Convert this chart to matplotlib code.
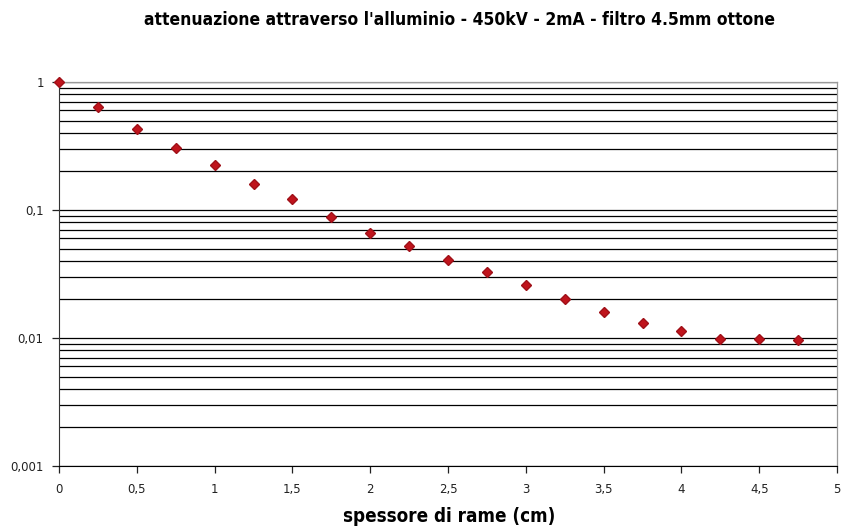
import matplotlib
matplotlib.use("Agg")
import matplotlib.pyplot as plt
from matplotlib.ticker import FuncFormatter, LogLocator, NullFormatter, MultipleLocator

thickness = [0, 0.25, 0.5, 0.75, 1.0, 1.25, 1.5, 1.75, 2.0, 2.25, 2.5, 2.75,
             3.0, 3.25, 3.5, 3.75, 4.0, 4.25, 4.5, 4.75]
attenuation = [1.0, 0.64, 0.43, 0.305, 0.225, 0.16, 0.122, 0.088, 0.066, 0.052,
               0.041, 0.0328, 0.026, 0.0202, 0.016, 0.0131, 0.01135, 0.0098,
               0.0098, 0.0096]

title = "attenuazione attraverso l'alluminio - 450kV - 2mA - filtro 4.5mm ottone"
xlabel = "spessore di rame (cm)"

fig = plt.figure(figsize=(8.44, 5.29), dpi=100)
ax = fig.add_axes([59/844, 1-466/529, (837-59)/844, (466-82)/529])

ax.set_yscale("log")
ax.set_ylim(0.001, 1)
ax.set_xlim(0, 5)

ax.yaxis.set_major_locator(LogLocator(base=10, numticks=10))
ax.yaxis.set_minor_locator(LogLocator(base=10, subs=range(2, 10), numticks=20))
ax.yaxis.set_minor_formatter(NullFormatter())
ax.yaxis.set_major_formatter(FuncFormatter(lambda v, p: ("%g" % v).replace(".", ",")))
ax.xaxis.set_major_locator(MultipleLocator(0.5))
ax.xaxis.set_major_formatter(FuncFormatter(lambda v, p: ("%g" % v).replace(".", ",")))

ax.grid(True, which="both", axis="y", color="black", linewidth=0.9)
ax.set_axisbelow(True)

for s in ["top", "right"]:
    ax.spines[s].set_color("#999999")
    ax.spines[s].set_linewidth(0.9)
ax.spines["left"].set_color("#333333")
ax.spines["bottom"].set_color("#000000")

ax.tick_params(axis="both", which="major", direction="out", length=5, width=0.9,
               labelsize=8.5, colors="#222222")
ax.tick_params(axis="y", which="minor", length=0)
ax.tick_params(axis="x", pad=7)
ax.tick_params(axis="y", pad=6)

ax.plot(thickness, attenuation, linestyle="none", marker="D", markersize=5.5,
        color="#C0141C", markeredgecolor="#A01018", clip_on=False, zorder=5)

fig.text(460/844, 1-20/529, title, ha="center", va="center", fontsize=12.5,
         fontweight="bold", family="DejaVu Sans", fontstretch="condensed")
fig.text(449/844, 1-516/529, xlabel, ha="center", va="center", fontsize=13.5,
         fontweight="bold", family="DejaVu Sans", fontstretch="condensed")

fig.savefig("out.png", dpi=100)
